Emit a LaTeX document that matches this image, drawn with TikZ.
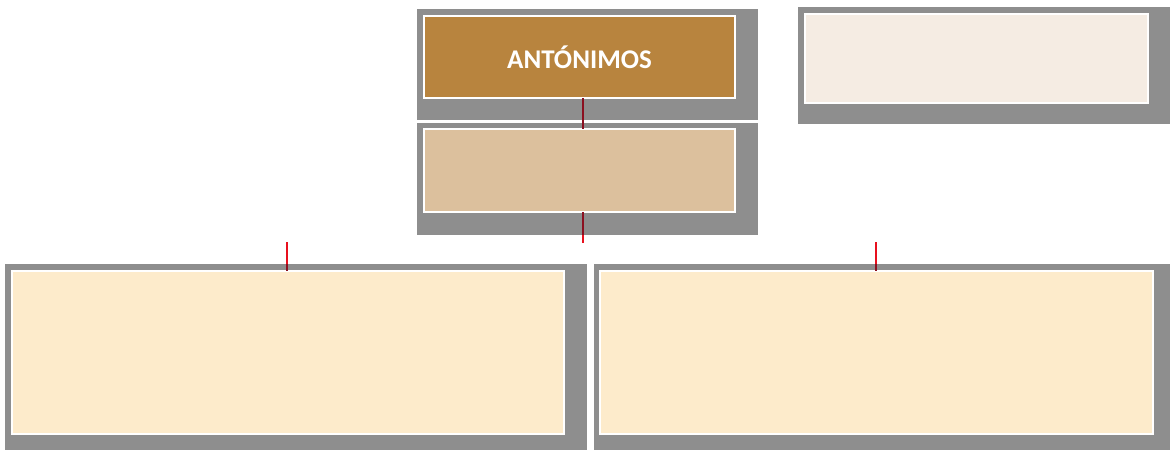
\documentclass[tikz,border=0pt]{standalone}
\usepackage{fontspec}
\setmainfont{Carlito}
\definecolor{panelgray}{HTML}{8E8E8E}
\definecolor{brownbox}{HTML}{B8843E}
\definecolor{tanbox}{HTML}{DCC09D}
\definecolor{lightbox}{HTML}{F5ECE3}
\definecolor{creambox}{HTML}{FDEBCB}
\definecolor{darkline}{HTML}{8B1020}
\definecolor{redline}{HTML}{E8101E}
\tikzset{
  panel/.style={fill=panelgray, draw=none, inner sep=0pt, outer sep=0pt},
  box/.style={draw=white, line width=2pt, inner sep=0pt, outer sep=0pt},
  link/.style={draw=darkline, line width=2pt},
  linkout/.style={draw=redline, line width=2pt},
}
\begin{document}
\begin{tikzpicture}[x=1pt,y=-1pt]
\useasboundingbox (0,0) rectangle (1170,450);
% panels
\fill[panel] (417,9) rectangle (758,120);
\fill[panel] (417,123) rectangle (758,235);
\fill[panel] (798,7) rectangle (1170,124);
\fill[panel] (5,264) rectangle (587,450);
\fill[panel] (594,264) rectangle (1170,450);
% boxes
\node[box, fill=brownbox, minimum width=311pt, minimum height=82pt, anchor=north west] (top) at (424,16)
  {\fontsize{27}{30}\selectfont\bfseries\color{white}\raisebox{-2pt}{ANTÓNIMOS}};
\node[box, fill=tanbox, minimum width=311pt, minimum height=83pt, anchor=north west] (mid) at (424,129) {};
\node[box, fill=lightbox, minimum width=343pt, minimum height=89pt, anchor=north west] (side) at (805,14) {};
\node[box, fill=creambox, minimum width=552pt, minimum height=163pt, anchor=north west] (left) at (12,271) {};
\node[box, fill=creambox, minimum width=553pt, minimum height=163pt, anchor=north west] (right) at (600,271) {};
% connector coordinates
\coordinate (midend) at (583,243);
\coordinate (midpanel) at (583,235);
\coordinate (lstart) at (287,242);
\coordinate (lpanel) at (287,264);
\coordinate (rstart) at (876,242);
\coordinate (rpanel) at (876,264);
% connectors
\draw[link] (top.south -| midpanel) -- (mid.north -| midpanel);
\draw[link] (mid.south -| midpanel) -- (midpanel);
\draw[linkout] (midpanel) -- (midend);
\draw[linkout] (lstart) -- (lpanel);
\draw[link] (lpanel) -- (left.north -| lpanel);
\draw[linkout] (rstart) -- (rpanel);
\draw[link] (rpanel) -- (right.north -| rpanel);
\end{tikzpicture}
\end{document}
